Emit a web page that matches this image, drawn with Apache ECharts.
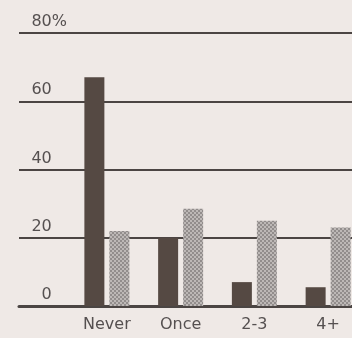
<!DOCTYPE html>
<html>
<head>
<meta charset="utf-8">
<script src="https://cdn.jsdelivr.net/npm/echarts@6/dist/echarts.min.js"></script>
<style>
	html, body { margin: 0; padding: 0; background: #efe9e6; }
	#chart { width: 352px; height: 338px; }
</style>
</head>
<body>
<div id="chart"></div>
<script>
// data
const categories = ['Never', 'Once', '2-3', '4+'];
const darkValues = [67, 20, 7, 5.5];
const lightValues = [22, 28.5, 25, 23];
const yTickLabels = ['0', '20', '40', '60', '80%'];
const yMax = 80;
const yStep = 20;

// little checkered tile for the light bars
const makePattern = () => {
	const c = document.createElement('canvas');
	c.width = 4;
	c.height = 4;
	const ctx = c.getContext('2d');
	ctx.fillStyle = '#bdb8b6';
	ctx.fillRect(0, 0, 4, 4);
	ctx.fillStyle = '#928d8c';
	ctx.fillRect(0, 0, 2, 2);
	ctx.fillRect(2, 2, 2, 2);
	return c;
};

const chart = echarts.init(document.getElementById('chart'));

const option = {
	backgroundColor: '#efe9e6',
	animation: false,
	textStyle: { fontFamily: 'DejaVu Sans' },
	grid: [
		// grid for the rules and y labels
		{ left: 19, right: 0, top: 33, bottom: 32, outerBoundsMode: 'none' },
		// grid for the bars (runs past the right edge, as in the crop)
		{ left: 70, width: 295, top: 33, bottom: 32, outerBoundsMode: 'none' },
	],
	xAxis: [
		{
			gridIndex: 0,
			type: 'category',
			data: categories,
			axisLine: { show: true, lineStyle: { color: '#4b4543', width: 3 } },
			axisTick: { show: false },
			axisLabel: { show: false },
		},
		{
			gridIndex: 1,
			type: 'category',
			data: categories,
			axisLine: { show: false },
			axisTick: { show: false },
			axisLabel: {
				color: '#555050',
				fontSize: 16,
				margin: 11,
			},
		},
	],
	yAxis: [
		{
			gridIndex: 0,
			type: 'value',
			min: 0,
			max: yMax,
			interval: yStep,
			axisLine: { show: false },
			axisTick: { show: false },
			axisLabel: {
				inside: true,
				align: 'right',
				verticalAlign: 'bottom',
				margin: 48,
				padding: [0, 0, 3, 0],
				formatter: (v) => {
					const t = yTickLabels[v / yStep];
					return t.endsWith('%') ? '{n|' + t.slice(0, -1) + '}{p|%}' : '{n|' + t + '}{h|%}';
				},
				rich: {
					n: { color: '#555050', fontSize: 16, fontFamily: 'DejaVu Sans' },
					p: { color: '#555050', fontSize: 16, fontFamily: 'DejaVu Sans' },
					h: { color: 'rgba(0,0,0,0)', fontSize: 16, fontFamily: 'DejaVu Sans' },
				},
			},
			splitLine: { lineStyle: { color: '#4b4543', width: 2 } },
		},
		{
			gridIndex: 1,
			type: 'value',
			min: 0,
			max: yMax,
			interval: yStep,
			show: false,
			splitLine: { show: false },
		},
	],
	series: [
		{
			type: 'bar',
			xAxisIndex: 1,
			yAxisIndex: 1,
			data: darkValues,
			barWidth: 20,
			barGap: '25%',
			itemStyle: { color: '#554943' },
		},
		{
			type: 'bar',
			xAxisIndex: 1,
			yAxisIndex: 1,
			data: lightValues,
			barWidth: 20,
			barGap: '25%',
			itemStyle: { color: { image: makePattern(), repeat: 'repeat' } },
		},
	],
};

chart.setOption(option);
</script>
</body>
</html>
